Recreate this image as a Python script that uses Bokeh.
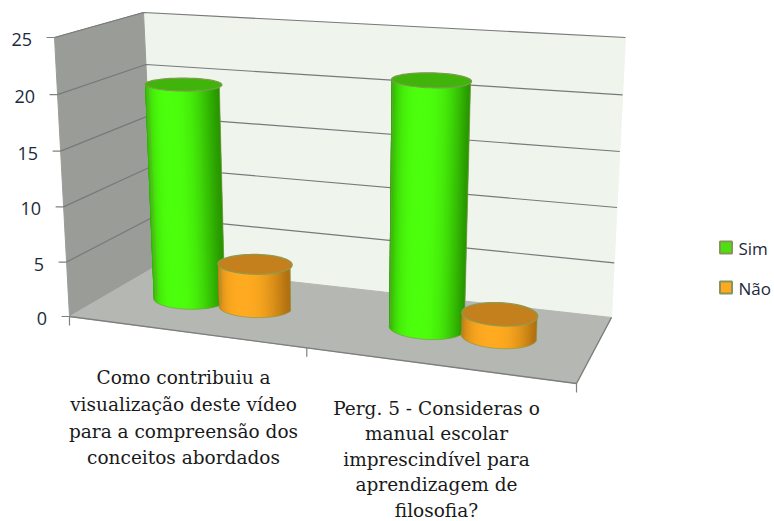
import math
from bokeh.embed import file_html
from bokeh.models import ColumnDataSource
from bokeh.plotting import figure
from bokeh.resources import INLINE
from bokeh.core.properties import value

# Chart data
series_names = ["Sim", "Não"]
sim_values = [20, 22]
nao_values = [4, 2]
value_ticks = [0, 5, 10, 15, 20, 25]
category_one = ["Como contribuiu a", "visualização deste vídeo", "para a compreensão dos", "conceitos abordados"]
category_two = ["Perg. 5 - Consideras o", "manual escolar", "imprescindível para", "aprendizagem de", "filosofia?"]

# Page positions of the 3D box corners: (across, depth, level)
VMAX = 25.0
corners = {
    (0, 0, 0): (69, 316), (1, 0, 0): (576, 383),
    (0, 1, 0): (155, 266), (1, 1, 0): (611, 317),
    (0, 0, 1): (54, 37), (1, 0, 1): (592, 79),
    (0, 1, 1): (143, 12), (1, 1, 1): (625, 37),
}


def project(u, d, v):
    """Trilinear mapping of box coordinates onto the page, with slight height perspective."""
    t = v / VMAX
    w = t * (0.97 + 0.03 * t)
    x = y = 0.0
    for (a, b, c), (px, py) in corners.items():
        k = (u if a else 1 - u) * (d if b else 1 - d) * (w if c else 1 - w)
        x += k * px
        y += k * py
    return x, y


def mix(c1, c2, t):
    return "#%02x%02x%02x" % tuple(round(a + (b - a) * t) for a, b in zip(c1, c2))


p = figure(width=774, height=521, x_range=(0, 774), y_range=(521, 0),
           output_backend="svg", toolbar_location=None, min_border=0,
           outline_line_color=None, background_fill_color="white")
p.axis.visible = False
p.grid.visible = False


def wall(points, fill):
    xs, ys = zip(*[project(*q) for q in points])
    p.patch(list(xs), list(ys), fill_color=fill, line_color=fill, line_width=1)


# Walls and floor
wall([(0, 1, 0), (1, 1, 0), (1, 1, VMAX), (0, 1, VMAX)], "#eff4ec")
wall([(0, 0, 0), (0, 1, 0), (0, 1, VMAX), (0, 0, VMAX)], "#9a9c98")
wall([(0, 0, 0), (1, 0, 0), (1, 1, 0), (0, 1, 0)], "#b5b7b3")

GRID = "#77797a"
for v in value_ticks:
    a, b, c = project(0, 0, v), project(0, 1, v), project(1, 1, v)
    if v > 0:
        p.line([a[0], b[0], c[0]], [a[1], b[1], c[1]], line_color=GRID, line_width=1.2)
    p.line([a[0] - 8, a[0]], [a[1], a[1]], line_color="#808080", line_width=1.2)
a, b, c = project(0, 0, 0), project(1, 0, 0), project(1, 1, 0)
p.line([a[0], b[0], c[0]], [a[1], b[1], c[1]], line_color="#7d7f7d", line_width=1.4)
for u in (0.0, 0.468, 1.0):
    x0, y0 = project(u, 0, 0)
    p.line([x0, x0], [y0, y0 + 9], line_color="#808080", line_width=1.2)

p.text([project(0, 0, v)[0] - 22.5 for v in value_ticks],
       [project(0, 0, v)[1] + 2 for v in value_ticks],
       text=[str(v) for v in value_ticks],
       text_font=value("Open Sans"), text_font_size="18px", text_color="#1c2a3c",
       text_align="right", text_baseline="middle")


def cylinder(u, d, level, ru, bright, edge, top, border):
    rd = 0.18
    n = 60
    step = math.pi / n
    # Side surface as narrow shaded strips, each overlapping the next so no seams show
    xs, ys, fills = [], [], []
    for i in range(n):
        t0 = math.pi + step * i
        t1 = min(t0 + 2 * step, 2 * math.pi)
        quad = [project(u + ru * math.cos(t), d + rd * math.sin(t), h)
                for t, h in ((t0, 0), (t1, 0), (t1, level), (t0, level))]
        xs.append([q[0] for q in quad])
        ys.append([q[1] for q in quad])
        mid = abs(math.cos(t0 + step / 2))
        fills.append(mix(bright, edge, mid ** 2.6))
    src = ColumnDataSource(dict(xs=xs, ys=ys, fill=fills))
    p.patches("xs", "ys", source=src, fill_color="fill", line_color=None)

    # Silhouette and lid
    ring_bottom = [project(u + ru * math.cos(math.pi + step * i),
                           d + rd * math.sin(math.pi + step * i), 0) for i in range(n + 1)]
    lid = [project(u + ru * math.cos(2 * step * i),
                   d + rd * math.sin(2 * step * i), level) for i in range(n + 1)]
    left = project(u - ru, d, level)
    right = project(u + ru, d, level)
    outline = [left] + ring_bottom + [right]
    p.line([q[0] for q in outline], [q[1] for q in outline], line_color=border, line_width=1, line_alpha=0.7)
    p.patch([q[0] for q in lid], [q[1] for q in lid], fill_color=top, line_color=border, line_width=1.2)


GREEN = dict(bright=(76, 255, 12), edge=(40, 150, 0), top="#41b40c", border="#7f9a4e")
ORANGE = dict(bright=(255, 170, 32), edge=(176, 112, 16), top="#c4801c", border="#8f9a4e")
positions = [(0.157, 0.293), (0.65, 0.80)]
radii = [(0.071, 0.072), (0.077, 0.077)]
DEPTH = 0.535
for (u_sim, u_nao), (r_sim, r_nao), s, n_ in zip(positions, radii, sim_values, nao_values):
    cylinder(u_sim, DEPTH, s, r_sim, **GREEN)
    cylinder(u_nao, DEPTH, n_, r_nao, **ORANGE)


# Category labels
def label_block(lines, cx, y_first, step):
    p.text([cx] * len(lines), [y_first + step * i for i in range(len(lines))], text=lines,
           text_font=value("DejaVu Serif"), text_font_size="18.5px", text_color="#1a1a1a",
           text_align="center", text_baseline="middle")


label_block(category_one, 183, 377, 26.8)
label_block(category_two, 436, 408, 25.4)

# Legend
swatches = ["#4ce00c", "#ffa820"]
for name, fill, y in zip(series_names, swatches, (247, 287)):
    p.rect([725.5], [y], width=12, height=12, fill_color=fill, line_color="#84965a", line_width=2)
    p.text([738], [y + 1], text=[name], text_font=value("Open Sans"), text_font_size="17px",
           text_color="#1c2a3c", text_baseline="middle")

open("out.html", "w").write(file_html(p, INLINE))
